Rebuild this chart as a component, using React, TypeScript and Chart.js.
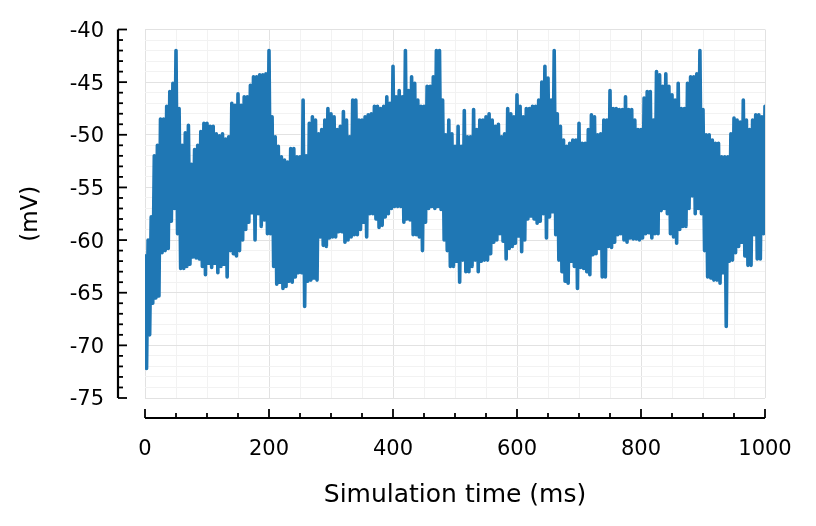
import React, { useEffect, useRef } from 'react';
import { Chart, registerables } from 'chart.js';

Chart.register(...registerables);

// Sampling step of the envelope readings (ms)
const TIME_STEP_MS = 5;

// Upper excursions of the membrane potential, one per step starting at t = 0 ms (mV)
const UPPER_MV = [
  -61.5, -60, -57.8, -52, -51, -48.5, -48.5, -47.3, -45.9, -45.1,
  -42, -47.5, -51, -49.8, -49.1, -52.8, -51.4, -51, -49.7, -48.9,
  -48.9, -49.2, -49.2, -49.9, -50.1, -49.9, -50.4, -50.2, -47, -47.2,
  -46.1, -47.2, -46.4, -46.4, -45.3, -44.5, -44.5, -44.3, -44.3, -44.2,
  -42, -48.3, -50.2, -51.1, -52.1, -52.4, -52.6, -51.3, -51.3, -52.1,
  -52.1, -46.7, -52, -48.9, -48.3, -48.6, -49.9, -49.5, -48.6, -47.5,
  -48, -48.3, -49.5, -49.2, -47.8, -48.6, -50.2, -46.7, -46.7, -48.6,
  -48.6, -48.3, -48.1, -48, -47.3, -47.3, -47.5, -47.3, -46.4, -47,
  -43.5, -46.4, -45.8, -46.4, -42, -45.8, -44.5, -45.1, -46.7, -47.3,
  -47.3, -45.4, -45.4, -44.5, -42, -42, -46.7, -50, -48.6, -49.9,
  -51.1, -49.2, -51.1, -47.7, -50.2, -50.2, -47.6, -49.5, -48.6, -48.6,
  -48.3, -48, -48.6, -49.2, -49, -50.2, -49.9, -47.5, -48, -48.3,
  -46.2, -47.3, -48.3, -47.5, -47.5, -47.3, -47.3, -46.7, -45, -43.5,
  -44.6, -46.7, -42, -48, -49.2, -50.5, -51.1, -50.8, -50.5, -50.5,
  -48.9, -50.8, -50.8, -49.5, -48.1, -48.3, -50, -49.9, -48.6, -48.6,
  -45.8, -47.5, -47.5, -47.6, -47.6, -46.4, -47.6, -47.6, -48.6, -49.5,
  -49.5, -46.5, -45.9, -45.9, -48.6, -44, -44.3, -45.4, -44.2, -45.4,
  -46.2, -46.7, -45.1, -47.5, -47.5, -45.1, -44.5, -44.5, -44.2, -42,
  -47.6, -50, -50, -50.5, -50.8, -50.8, -52.1, -52.1, -52.1, -49.9,
  -48.4, -48.6, -48.8, -46.7, -48.6, -49.5, -48.6, -48.1, -48.1, -48.3,
  -47.3,
];

// Lower excursions, one per step, half a step after each upper value (mV)
const LOWER_MV = [
  -72.2, -69, -66, -65.5, -65.3, -61.2, -61, -60.8, -58.2, -57,
  -59.4, -62.7, -62.7, -62.5, -62.3, -61.6, -61.7, -61.8, -62.5, -63.3,
  -62.2, -62.6, -62.2, -63.1, -62.5, -62.3, -63.5, -61, -61.3, -61.5,
  -61, -60, -59, -58.3, -57.4, -60, -57.5, -58.7, -58.1, -59.4,
  -59.4, -62.5, -64.2, -64, -64.6, -64.4, -63.9, -64, -63.5, -63.1,
  -63.1, -66.3, -63.9, -63.8, -63.6, -63.8, -59.7, -60.5, -60.6, -59.8,
  -59.7, -59.7, -59.2, -59.2, -60.2, -60, -59.7, -59.5, -59.5, -59,
  -58.3, -59.7, -57.5, -57.5, -58, -58.8, -58.6, -57.8, -57.5, -57,
  -56.8, -56.8, -56.8, -58.3, -58, -58.1, -59.5, -59.5, -59.7, -61,
  -58.3, -57, -56.8, -57, -56.8, -57.1, -60, -61, -62.5, -62.5,
  -62, -64, -61.9, -63, -63, -62.5, -61.9, -63, -62, -61.9,
  -61.9, -61.3, -60.2, -60, -59.4, -60.1, -61.8, -60.8, -60.6, -60.3,
  -59.6, -61.1, -60, -58, -57.7, -58, -58.4, -58.2, -57.5, -59.8,
  -57.8, -57.3, -59.5, -61.9, -63, -63.9, -64.1, -62, -62.5, -64.6,
  -62.6, -62.7, -63, -63.3, -61.4, -61.3, -60.8, -63.5, -63.5, -60.6,
  -60.7, -60.2, -59.5, -59.4, -60, -60.2, -59.8, -59.9, -59.9, -60,
  -59.8, -59.4, -59.3, -59.8, -59.4, -59.4, -57.2, -57, -57.5, -59.4,
  -59.7, -60.3, -59, -58.7, -58.7, -57, -55.8, -57.5, -57, -57.5,
  -61, -63.5, -63.6, -63.8, -63.8, -64.1, -63.1, -68.2, -62, -61.9,
  -61.2, -60.6, -60.2, -61.5, -62.4, -62.4, -59.5, -61.8, -61.8, -59.4,
];

const X_MIN = 0;
const X_MAX = 1000;
const X_MINOR_STEP = 50;
const X_LABEL_STEP = 200;
const Y_MIN = -75;
const Y_MAX = -40;
const Y_MINOR_STEP = 1;
const Y_LABEL_STEP = 5;

const X_TITLE = 'Simulation time (ms)';
const Y_TITLE = '(mV)';

const FONT = "'DejaVu Sans', 'Liberation Sans', sans-serif";

const isMultiple = (v: number, step: number) => Math.abs(Math.round(v / step) * step - v) < 1e-6;

const offsetAxesPlugin = {
  id: 'offsetAxes',
  afterDraw(chart: any) {
    const { ctx, chartArea, scales } = chart;
    const xs = scales.x;
    const ys = scales.y;
    const axX = chartArea.left - 27;
    const axY = chartArea.bottom + 20;
    ctx.save();
    ctx.strokeStyle = '#000';
    ctx.lineCap = 'butt';
    // y axis
    ctx.lineWidth = 2.2;
    ctx.beginPath();
    ctx.moveTo(axX, ys.getPixelForValue(Y_MAX));
    ctx.lineTo(axX, ys.getPixelForValue(Y_MIN));
    ctx.stroke();
    ctx.lineWidth = 1.8;
    for (let v = Y_MIN; v <= Y_MAX; v += Y_MINOR_STEP) {
      const p = ys.getPixelForValue(v);
      const len = isMultiple(v, Y_LABEL_STEP) ? 9 : 5;
      ctx.beginPath();
      ctx.moveTo(axX, p);
      ctx.lineTo(axX + len, p);
      ctx.stroke();
    }
    // x axis
    ctx.lineWidth = 2.2;
    ctx.beginPath();
    ctx.moveTo(xs.getPixelForValue(X_MIN), axY);
    ctx.lineTo(xs.getPixelForValue(X_MAX), axY);
    ctx.stroke();
    ctx.lineWidth = 1.8;
    for (let v = X_MIN; v <= X_MAX; v += X_MINOR_STEP) {
      const p = xs.getPixelForValue(v);
      const len = isMultiple(v, X_LABEL_STEP) ? 9 : 5;
      ctx.beginPath();
      ctx.moveTo(p, axY);
      ctx.lineTo(p, axY - len);
      ctx.stroke();
    }
    ctx.restore();
  },
};

export default function App() {
  const ref = useRef<HTMLCanvasElement>(null);

  useEffect(() => {
    if (!ref.current) return;
    const points: { x: number; y: number }[] = [];
    UPPER_MV.forEach((v, i) => {
      points.push({ x: i * TIME_STEP_MS, y: v });
      if (i < LOWER_MV.length) {
        points.push({ x: i * TIME_STEP_MS + TIME_STEP_MS / 2, y: LOWER_MV[i] });
      }
    });

    const gridColor = (step: number) => (c: any) =>
      c.tick && isMultiple(c.tick.value, step) ? '#e2e2e2' : '#f2f2f2';

    const chart = new Chart(ref.current, {
      type: 'line',
      data: {
        datasets: [
          {
            data: points,
            borderColor: '#1f77b4',
            backgroundColor: '#1f77b4',
            borderWidth: 3.6,
            pointRadius: 0,
            tension: 0,
            borderJoinStyle: 'round',
            borderCapStyle: 'round',
            fill: false,
          },
        ],
      },
      options: {
        responsive: false,
        animation: false,
        layout: { padding: { top: 21.5, right: 43, left: 0, bottom: 0 } },
        plugins: { legend: { display: false }, tooltip: { enabled: false } },
        scales: {
          x: {
            type: 'linear',
            min: X_MIN,
            max: X_MAX,
            afterFit: (s: any) => {
              s.height = 120;
              s.paddingLeft = 0;
              s.paddingRight = 0;
            },
            border: { display: false },
            grid: { color: gridColor(X_LABEL_STEP), lineWidth: 1, drawTicks: false },
            ticks: {
              stepSize: X_MINOR_STEP,
              autoSkip: false,
              maxRotation: 0,
              padding: 39,
              color: '#000',
              font: { family: FONT, size: 21 },
              callback: (v: any) => (isMultiple(Number(v), X_LABEL_STEP) ? String(v) : ''),
            },
            title: {
              display: true,
              text: X_TITLE,
              color: '#000',
              font: { family: FONT, size: 25 },
              padding: { top: 0, bottom: 8 },
            },
          },
          y: {
            type: 'linear',
            min: Y_MIN,
            max: Y_MAX,
            afterFit: (s: any) => {
              s.width = 137;
              s.paddingTop = 0;
              s.paddingBottom = 0;
            },
            border: { display: false },
            grid: { color: gridColor(Y_LABEL_STEP), lineWidth: 1, drawTicks: false },
            ticks: {
              stepSize: Y_MINOR_STEP,
              autoSkip: false,
              padding: 41,
              labelOffset: 2,
              color: '#000',
              font: { family: FONT, size: 21 },
              callback: (v: any) => (isMultiple(Number(v), Y_LABEL_STEP) ? String(v) : ''),
            },
            title: {
              display: true,
              text: Y_TITLE,
              color: '#000',
              font: { family: FONT, size: 23 },
              padding: { top: 9, bottom: 0 },
            },
          },
        },
      },
      plugins: [offsetAxesPlugin],
    } as any);

    return () => chart.destroy();
  }, []);

  return (
    <div style={{ width: 800, height: 510 }}>
      <canvas ref={ref} width={800} height={510} />
    </div>
  );
}
